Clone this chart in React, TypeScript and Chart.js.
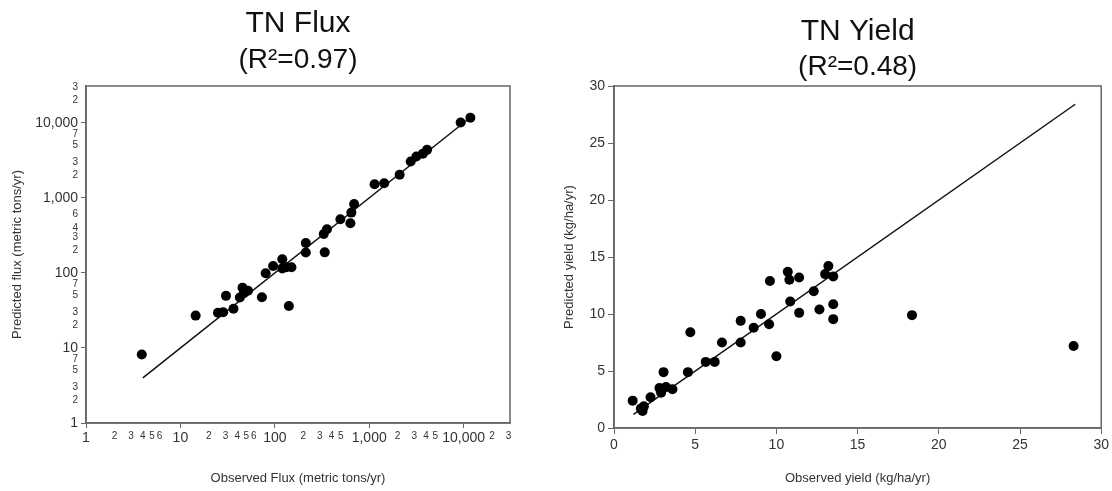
import React, { useEffect, useRef } from "react";
import { Chart, registerables } from "chart.js";
Chart.register(...registerables);

const FONT = '"Liberation Sans", Arial, Helvetica, sans-serif';

// ---- TN Flux (left) ----
const fluxObserved = [3.9, 14.5, 25, 28.4, 30.4, 36.5, 42.6, 45.5, 47, 52, 73, 80, 96, 120, 120, 132, 150, 141, 213, 213, 338, 330, 357, 495, 632, 647, 692, 1140, 1440, 2100, 2750, 3160, 3700, 4100, 9300, 11800];
const fluxPredicted = [8.2, 27, 29.5, 30, 49.5, 33.3, 47, 63.7, 53.5, 58, 47.4, 99, 124, 152, 115, 119, 119, 36.3, 250, 187, 188, 331, 383, 520, 460, 637, 830, 1520, 1570, 2040, 3050, 3560, 3870, 4370, 10100, 11700];
const fluxFitLine = [4, 11700];
const fluxXTicks = [1, 2, 3, 4, 5, 6, 10, 20, 30, 40, 50, 60, 100, 200, 300, 400, 500, 1000, 2000, 3000, 4000, 5000, 10000, 20000, 30000];
const fluxYTicks = [1, 2, 3, 5, 7, 10, 20, 30, 50, 70, 100, 200, 300, 400, 600, 1000, 2000, 3000, 5000, 7000, 10000, 20000, 30000];
const fluxMajorTicks = [1, 10, 100, 1000, 10000];

// ---- TN Yield (right) ----
const yieldObserved = [1.15, 1.65, 1.76, 1.84, 2.25, 2.8, 2.9, 3.05, 3.2, 3.6, 4.55, 4.7, 5.65, 6.2, 6.65, 7.8, 7.8, 8.6, 9.05, 9.55, 9.6, 10, 10.7, 10.8, 10.85, 11.4, 11.4, 12.3, 12.65, 13, 13.2, 13.5, 13.5, 13.5, 18.35, 28.3];
const yieldPredicted = [2.4, 1.7, 1.5, 1.9, 2.7, 3.5, 3.1, 4.9, 3.6, 3.4, 4.9, 8.4, 5.8, 5.8, 7.5, 7.5, 9.4, 8.8, 10, 9.1, 12.9, 6.3, 13.7, 13, 11.1, 13.2, 10.1, 12, 10.4, 13.5, 14.2, 13.3, 10.85, 9.55, 9.9, 7.2];
const yieldFitLine = [1.2, 28.4];

const isMajor = (v: any) => fluxMajorTicks.includes(v);
const fmtLog = (v: number) => {
  if (isMajor(v)) return v.toLocaleString("en-US");
  const p = Math.pow(10, Math.floor(Math.log10(v) + 1e-9));
  return String(Math.round(v / p));
};

const boxPlugin = {
  id: "box",
  afterDatasetsDraw(chart: any) {
    const { ctx, chartArea: a } = chart;
    ctx.save();
    ctx.strokeStyle = "#666";
    ctx.lineWidth = 1.5;
    ctx.strokeRect(a.left, a.top, a.right - a.left, a.bottom - a.top);
    ctx.restore();
  },
};

const pointStyle = {
  backgroundColor: "#000",
  borderColor: "#000",
  pointRadius: 5,
  pointHoverRadius: 5,
  borderWidth: 0,
};
const lineStyle = {
  showLine: true,
  borderColor: "#111",
  borderWidth: 1.5,
  pointRadius: 0,
  pointHoverRadius: 0,
  fill: false,
};

function logAxis(values: number[], title: string, vertical: boolean) {
  return {
    type: "logarithmic",
    min: 1,
    max: 31000,
    afterBuildTicks: (s: any) => {
      s.ticks = values.map((v) => ({ value: v }));
    },
    afterFit: (s: any) => {
      if (vertical) s.width = 86;
      else s.height = 68;
    },
    ticks: {
      autoSkip: false,
      maxRotation: 0,
      minRotation: 0,
      color: "#333",
      padding: vertical ? 3 : 2,
      font: (c: any) => ({ family: FONT, size: c.tick && isMajor(c.tick.value) ? 14 : 10 }),
      callback: (v: any) => fmtLog(Number(v)),
    },
    grid: {
      drawOnChartArea: false,
      tickLength: 5,
      tickColor: (c: any) => (c.tick && isMajor(c.tick.value) ? "#666" : "rgba(0,0,0,0)"),
    },
    border: { display: true, color: "#666", width: 1.5 },
    title: {
      display: true,
      text: title,
      color: "#333",
      font: { family: FONT, size: 13 },
      padding: vertical ? { top: 10, bottom: 0 } : { top: 0, bottom: 5 },
    },
  };
}

function linAxis(title: string, vertical: boolean) {
  return {
    type: "linear",
    min: 0,
    max: 30,
    afterFit: (s: any) => {
      if (vertical) s.width = 58;
      else s.height = 63;
    },
    ticks: {
      stepSize: 5,
      color: "#333",
      padding: 3,
      font: { family: FONT, size: 14 },
    },
    grid: { drawOnChartArea: false, tickLength: 6, tickColor: "#666" },
    border: { display: true, color: "#666", width: 1.5 },
    title: {
      display: true,
      text: title,
      color: "#333",
      font: { family: FONT, size: 13 },
      padding: vertical ? { top: 6, bottom: 0 } : { top: 0, bottom: 5 },
    },
  };
}

function titles(main: string, sub: string, topPad: number, subTop: number, subBottom: number) {
  return {
    title: {
      display: true,
      fullSize: false,
      text: main,
      color: "#111",
      font: { family: FONT, size: 30, weight: "normal", lineHeight: 1.2 },
      padding: { top: topPad, bottom: 0 },
    },
    subtitle: {
      display: true,
      fullSize: false,
      text: sub,
      color: "#111",
      font: { family: FONT, size: 28, weight: "normal", lineHeight: 1.2 },
      padding: { top: subTop, bottom: subBottom },
    },
  };
}

function fluxConfig(): any {
  return {
    type: "scatter",
    data: {
      datasets: [
        { data: fluxObserved.map((x, i) => ({ x, y: fluxPredicted[i] })), ...pointStyle },
        { data: fluxFitLine.map((v) => ({ x: v, y: v })), ...lineStyle },
      ],
    },
    options: {
      animation: false,
      responsive: false,
      devicePixelRatio: 1,
      layout: { padding: { left: 0, right: 46, top: 0, bottom: 0 } },
      plugins: {
        legend: { display: false },
        tooltip: { enabled: false },
        ...titles("TN Flux", "(R²=0.97)", 6, 1, 9.4),
      },
      scales: {
        x: logAxis(fluxXTicks, "Observed Flux (metric tons/yr)", false),
        y: logAxis(fluxYTicks, "Predicted flux (metric tons/yr)", true),
      },
    },
    plugins: [boxPlugin],
  };
}

function yieldConfig(): any {
  return {
    type: "scatter",
    data: {
      datasets: [
        { data: yieldObserved.map((x, i) => ({ x, y: yieldPredicted[i] })), ...pointStyle },
        { data: yieldFitLine.map((v) => ({ x: v, y: v })), ...lineStyle },
      ],
    },
    options: {
      animation: false,
      responsive: false,
      devicePixelRatio: 1,
      layout: { padding: { left: 0, right: 10, top: 0, bottom: 0 } },
      plugins: {
        legend: { display: false },
        tooltip: { enabled: false },
        ...titles("TN Yield", "(R²=0.48)", 14, 0, 2.4),
      },
      scales: {
        x: linAxis("Observed yield (kg/ha/yr)", false),
        y: linAxis("Predicted yield (kg/ha/yr)", true),
      },
    },
    plugins: [boxPlugin],
  };
}

function ChartCanvas({ make, left }: { make: () => any; left: number }) {
  const ref = useRef<HTMLCanvasElement | null>(null);
  useEffect(() => {
    const chart = new Chart(ref.current as HTMLCanvasElement, make());
    return () => chart.destroy();
  }, []);
  return (
    <canvas
      ref={ref}
      width={556}
      height={491}
      style={{ position: "absolute", left, top: 0, width: 556, height: 491 }}
    />
  );
}

export default function App() {
  return (
    <div style={{ position: "fixed", left: 0, top: 0, width: 1112, height: 491, background: "#fff" }}>
      <ChartCanvas make={fluxConfig} left={0} />
      <ChartCanvas make={yieldConfig} left={556} />
    </div>
  );
}
